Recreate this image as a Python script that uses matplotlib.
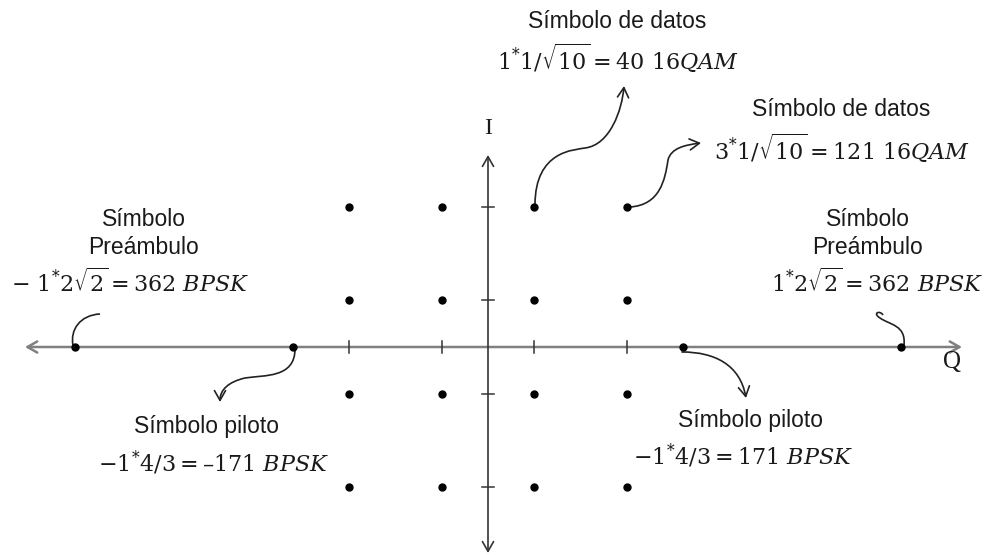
import numpy as np
import matplotlib
matplotlib.use("Agg")
import matplotlib.pyplot as plt
from matplotlib.path import Path
from matplotlib.patches import FancyArrowPatch, PathPatch

# constellation values
qam_levels = [-3 / np.sqrt(10), -1 / np.sqrt(10), 1 / np.sqrt(10), 3 / np.sqrt(10)]
pilot_values = [-4 / 3, 4 / 3]
preamble_values = [-2 * np.sqrt(2), 2 * np.sqrt(2)]

# pixel -> data helpers (layout only)
CX, CY, SX, SY = 488, 347, 146, 148


def px(x, y):
    return ((x - CX) / SX, (CY - y) / SY)


plt.rcParams['mathtext.fontset'] = 'dejavuserif'
sans = 'Liberation Sans'
serif = 'Liberation Serif'
txt_col = '#1a1a1a'

fig = plt.figure(figsize=(9.89, 5.55), dpi=100)
ax = fig.add_axes([0, 0, 1, 1])
ax.set_xlim(-CX / SX, (989 - CX) / SX)
ax.set_ylim(-(555 - CY) / SY, CY / SY)
ax.axis('off')

# axes with arrows on both ends
ax.add_patch(FancyArrowPatch(px(25, 347), px(962, 347), arrowstyle='<->,head_length=7,head_width=4',
                             color='#808080', lw=1.8, mutation_scale=1, shrinkA=0, shrinkB=0))
ax.add_patch(FancyArrowPatch(px(488, 553), px(488, 155), arrowstyle='<->,head_length=7,head_width=4',
                             color='#333333', lw=1.2, mutation_scale=1, shrinkA=0, shrinkB=0))

# tick marks
tx, ty = 6 / SX, 6 / SY
for v in qam_levels:
    ax.plot([v, v], [-ty, ty], color='#333333', lw=1.1)
    ax.plot([-tx, tx], [v, v], color='#333333', lw=1.1)

# 16QAM points
qx, qy = np.meshgrid(qam_levels, qam_levels)
ax.plot(qx.ravel(), qy.ravel(), 'o', color='black', ms=5, zorder=5)
# BPSK points on the Q axis
bpsk = pilot_values + preamble_values
ax.plot(bpsk, np.zeros(len(bpsk)), 'o', color='black', ms=5, zorder=5)

ax.text(*px(488, 128), 'I', family=serif, fontsize=17, ha='center', va='center', color=txt_col)
ax.text(*px(952, 362), 'Q', family=serif, fontsize=18, ha='center', va='center', color=txt_col)


def curve(points, arrow=True):
    pts = [px(*p) for p in points]
    codes = [Path.MOVETO] + [Path.CURVE4] * (len(pts) - 1)
    path = Path(pts, codes)
    if arrow:
        ax.add_patch(FancyArrowPatch(path=path, arrowstyle='->,head_length=7,head_width=4',
                                     mutation_scale=1, color='#222222', lw=1.2))
    else:
        ax.add_patch(PathPatch(path, fill=False, color='#222222', lw=1.2))


# arrows from symbols to labels
curve([(535, 205), (535, 150), (575, 150), (585, 148), (610, 145), (622, 110), (624, 86)])
curve([(630, 207), (660, 205), (665, 180), (668, 160), (671, 148), (685, 145), (701, 143)])
curve([(73, 345), (70, 330), (80, 315), (100, 314)], arrow=False)
curve([(295, 349), (295, 378), (265, 375), (245, 378), (228, 382), (220, 390), (220, 402)])
curve([(682, 352), (715, 352), (740, 365), (746, 398)])
curve([(904, 345), (906, 325), (890, 325), (880, 318), (872, 313), (880, 310), (883, 315)], arrow=False)

fs_label = 16.5
fs_math = 16

ax.text(*px(617, 22), 'Símbolo de datos', family=sans, fontsize=fs_label, ha='center', va='center', color=txt_col)
ax.text(*px(618, 58), r'$1^{*}1/\sqrt{10} = 40\ 16QAM$', fontsize=fs_math, ha='center', va='center', color=txt_col)

ax.text(*px(841, 110), 'Símbolo de datos', family=sans, fontsize=fs_label, ha='center', va='center', color=txt_col)
ax.text(*px(842, 148), r'$3^{*}1/\sqrt{10} = 121\ 16QAM$', fontsize=fs_math, ha='center', va='center', color=txt_col)

ax.text(*px(144, 219), 'Símbolo', family=sans, fontsize=fs_label, ha='center', va='center', color=txt_col)
ax.text(*px(144, 247), 'Preámbulo', family=sans, fontsize=fs_label, ha='center', va='center', color=txt_col)
ax.text(*px(130, 282), r'$-\ 1^{*}2\sqrt{2} = 362\ BPSK$', fontsize=fs_math, ha='center', va='center', color=txt_col)

ax.text(*px(868, 219), 'Símbolo', family=sans, fontsize=fs_label, ha='center', va='center', color=txt_col)
ax.text(*px(868, 247), 'Preámbulo', family=sans, fontsize=fs_label, ha='center', va='center', color=txt_col)
ax.text(*px(877, 282), r'$1^{*}2\sqrt{2} = 362\ BPSK$', fontsize=fs_math, ha='center', va='center', color=txt_col)

ax.text(*px(206, 427), 'Símbolo piloto', family=sans, fontsize=fs_label, ha='center', va='center', color=txt_col)
ax.text(*px(214, 463), r'$-1^{*}4/3 = –171\ BPSK$', fontsize=fs_math, ha='center', va='center', color=txt_col)

ax.text(*px(750, 420), 'Símbolo piloto', family=sans, fontsize=fs_label, ha='center', va='center', color=txt_col)
ax.text(*px(743, 456), r'$-1^{*}4/3 = 171\ BPSK$', fontsize=fs_math, ha='center', va='center', color=txt_col)

fig.savefig('out.png', dpi=100)
